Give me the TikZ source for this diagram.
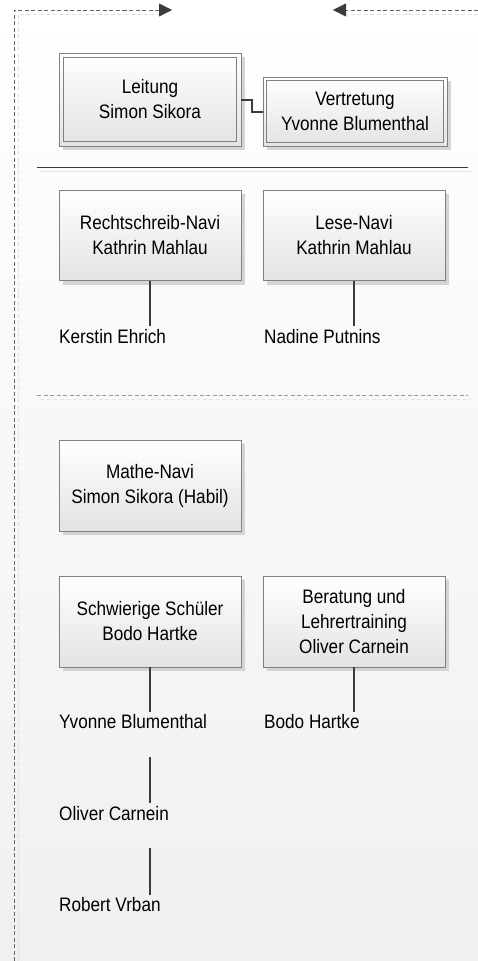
\documentclass[tikz,border=0pt]{standalone}
\usepackage{fontspec}
\setmainfont[FakeStretch=0.88]{Liberation Sans}
\usetikzlibrary{shadows,arrows.meta,calc}
\definecolor{edgegray}{HTML}{808080}
\definecolor{ink}{HTML}{3C3C3C}
\definecolor{framegray}{HTML}{666666}
\begin{document}
\begin{tikzpicture}[x=1pt,y=-1pt,font=\fontsize{19.5}{25}\selectfont,
  box/.style={draw=edgegray, line width=0.8pt, top color=white, bottom color=black!11,
    drop shadow={shadow xshift=4pt, shadow yshift=-4pt, fill=black!17, opacity=1},
    align=center, inner sep=0pt, minimum width=182pt, minimum height=91pt},
  person/.style={anchor=base west, inner xsep=0pt, inner ysep=2pt, text height=14.5pt, text depth=26pt},
  conn/.style={draw=ink, line width=2pt},
  framedash/.style={draw=framegray, line width=0.8pt, dash pattern=on 4pt off 2.5pt},
  framefaint/.style={draw=black!12, line width=0.8pt, dash pattern=on 4pt off 2.5pt},
  tip/.style={-{Triangle[length=13pt,width=13pt,color=ink]}}]
\useasboundingbox (0,0) rectangle (478,961);
\shade[top color=white, bottom color=black!6] (0,0) rectangle (478,961);

% frame
\coordinate (fbl) at (14,961);
\coordinate (ftl) at (14,10);
\coordinate (fa) at (172,10);
\coordinate (fr) at (478,10);
\coordinate (fb) at (333,10);
\draw[framefaint] (18,961) -- (18,14) -- (160,14);
\draw[framefaint] (478,14) -- (346,14);
\draw[framedash, tip] (fbl) -- (ftl) -- (fa);
\draw[framedash, tip] (fr) -- (fb);

% separators
\draw[black!12, line width=0.8pt] (40,171) -- (471,171);
\draw[ink, line width=0.8pt] (37,167) -- (468,167);
\draw[black!10, line width=0.8pt, dash pattern=on 4pt off 2.5pt] (40,399) -- (471,399);
\draw[black!40, line width=0.8pt, dash pattern=on 4pt off 2.5pt] (37,395) -- (468,395);

% boxes
\node[box, minimum height=93pt] (lt) at (150,99.5) {Leitung\\Simon Sikora};
\node[box, minimum width=184pt, minimum height=69pt] (vt) at (355,111.5) {Vertretung\\Yvonne Blumenthal};
\draw[edgegray, line width=0.8pt] ([shift={(5,5)}]lt.north west) rectangle ([shift={(-5,-5)}]lt.south east);
\draw[edgegray, line width=0.8pt] ([shift={(4,4)}]vt.north west) rectangle ([shift={(-4,-4)}]vt.south east);
\node[box, minimum height=90.5pt] (rs) at (150,235.25) {Rechtschreib-Navi\\Kathrin Mahlau};
\node[box, minimum height=90.5pt] (ln) at (354,235.25) {Lese-Navi\\Kathrin Mahlau};
\node[box] (mn) at (150,485.75) {Mathe-Navi\\Simon Sikora (Habil)};
\node[box] (ss) at (150,621.5) {Schwierige Schüler\\Bodo Hartke};
\node[box] (bl) at (354,621.5) {Beratung und\\Lehrertraining\\Oliver Carnein};

% persons
\node[person] (ke) at (59,343) {Kerstin Ehrich};
\node[person] (np) at (264,343) {Nadine Putnins};
\node[person] (yb) at (59,728.5) {Yvonne Blumenthal};
\node[person] (bh) at (264,728.5) {Bodo Hartke};
\node[person] (oc) at (59,820) {Oliver Carnein};
\node[person] (rv) at (59,911.5) {Robert Vrban};

% connectors
\draw[conn] (lt.east) -- ++(11,0) |- (vt.west);
\draw[conn] (rs.south) -- (rs.south |- ke.north);
\draw[conn] (ln.south) -- (ln.south |- np.north);
\draw[conn] (ss.south) -- (ss.south |- yb.north);
\draw[conn] (bl.south) -- (bl.south |- bh.north);
\draw[conn] (ss.south |- yb.south) -- (ss.south |- oc.north);
\draw[conn] (ss.south |- oc.south) -- (ss.south |- rv.north);
\end{tikzpicture}
\end{document}
